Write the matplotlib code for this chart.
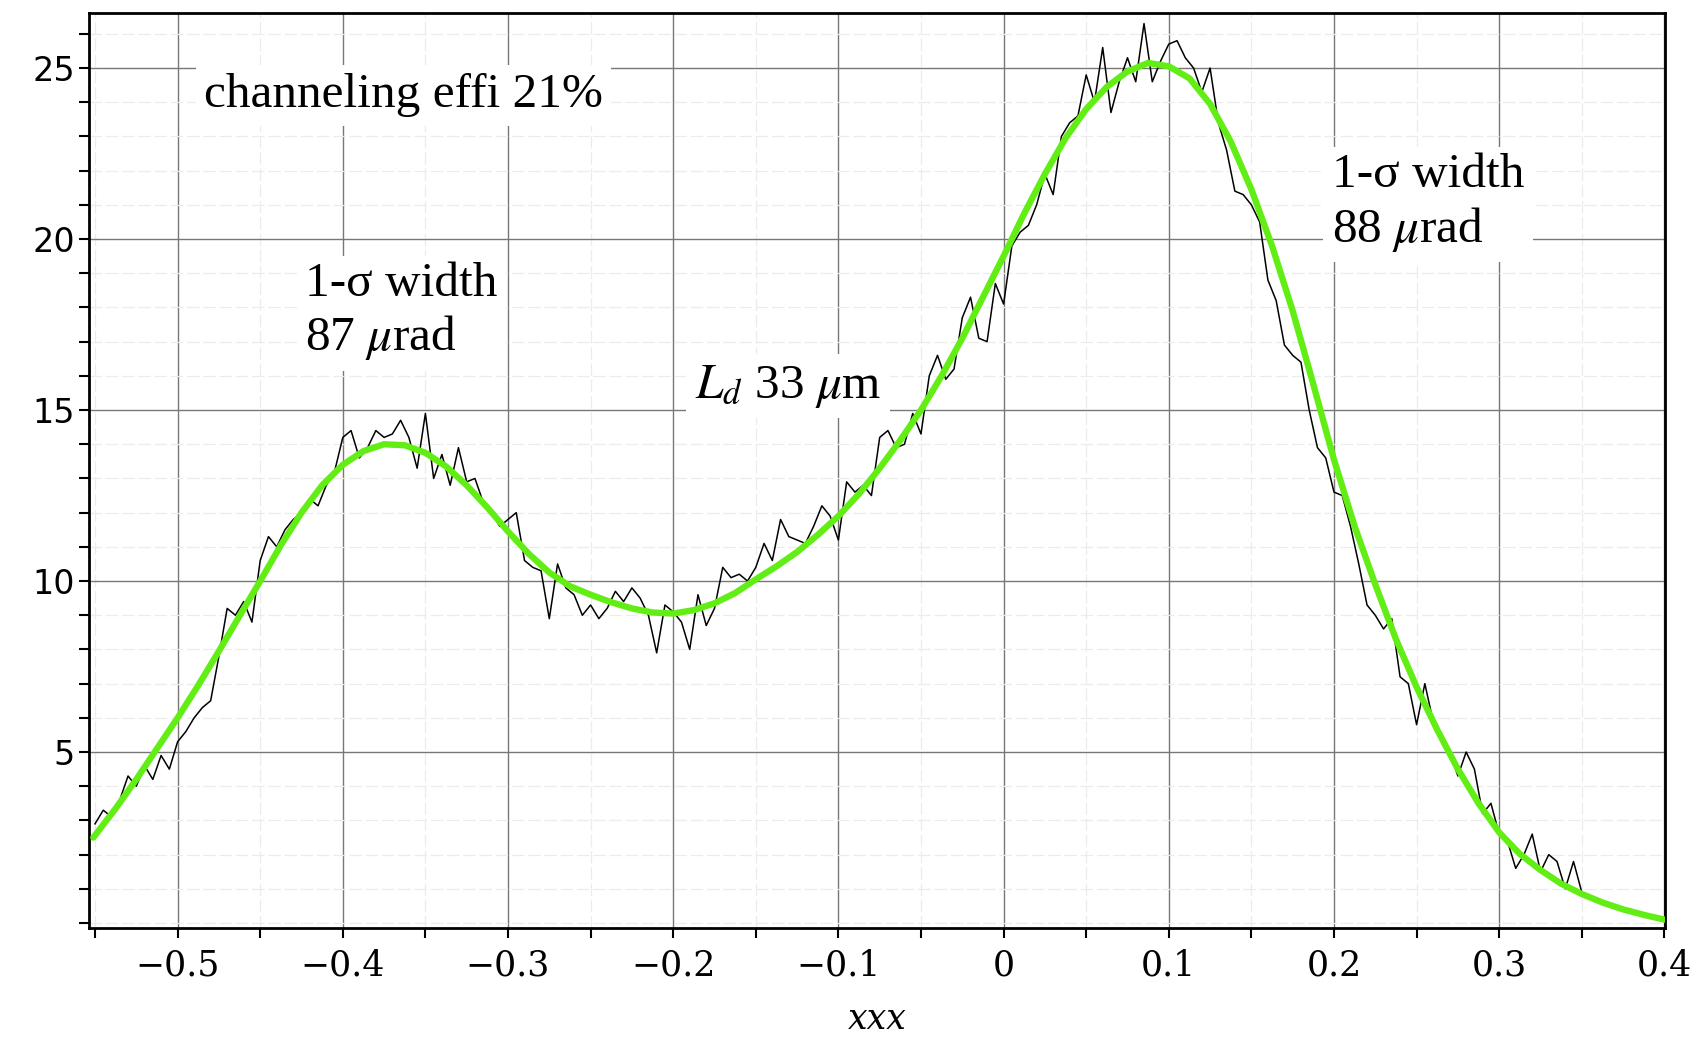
import numpy as np
import matplotlib
matplotlib.use("Agg")
import matplotlib.pyplot as plt
from matplotlib.ticker import MultipleLocator, FixedLocator, FixedFormatter

plt.rcParams['mathtext.fontset'] = 'stix'

# measured spectrum, bins of 0.005 from -0.55 to 0.35
data_y = [2.9, 3.3, 3.1, 3.6, 4.3, 4.0, 4.6, 4.2, 4.9, 4.5,
          5.3, 5.6, 6.0, 6.3, 6.5, 7.8, 9.2, 9.0, 9.4, 8.8,
          10.6, 11.3, 11.0, 11.5, 11.8, 12.0, 12.4, 12.2, 12.8, 13.2,
          14.2, 14.4, 13.6, 13.9, 14.4, 14.2, 14.3, 14.7, 14.2, 13.3,
          14.9, 13.0, 13.7, 12.8, 13.9, 12.9, 13.0, 12.3, 12.0, 11.6,
          11.8, 12.0, 10.6, 10.4, 10.3, 8.9, 10.5, 9.8, 9.6, 9.0,
          9.3, 8.9, 9.2, 9.7, 9.4, 9.8, 9.5, 9.0, 7.9, 9.3,
          9.1, 8.8, 8.0, 9.6, 8.7, 9.2, 10.4, 10.1, 10.2, 10.0,
          10.4, 11.1, 10.6, 11.8, 11.3, 11.2, 11.1, 11.6, 12.2, 11.9,
          11.2, 12.9, 12.6, 12.8, 12.5, 14.2, 14.4, 13.9, 14.0, 14.9,
          14.3, 16.0, 16.6, 15.9, 16.2, 17.7, 18.3, 17.1, 17.0, 18.7,
          18.1, 19.8, 20.2, 20.4, 21.0, 21.9, 21.3, 23.0, 23.4, 23.6,
          24.8, 24.0, 25.6, 23.7, 24.6, 25.3, 24.6, 26.3, 24.6, 25.2,
          25.7, 25.8, 25.3, 25.0, 24.3, 25.0, 23.4, 22.6, 21.4, 21.3,
          21.0, 20.5, 18.8, 18.2, 16.9, 16.6, 16.4, 15.0, 13.9, 13.6,
          12.6, 12.5, 11.6, 10.5, 9.3, 9.0, 8.6, 8.9, 7.2, 7.0,
          5.8, 7.0, 5.9, 5.5, 5.0, 4.3, 5.0, 4.5, 3.2, 3.5,
          2.6, 2.4, 1.6, 2.0, 2.6, 1.5, 2.0, 1.8, 1.0, 1.8,
          0.9]
data_x = np.linspace(-0.55, 0.35, len(data_y))

# fitted curve
fit_x = [-0.551, -0.5375, -0.525, -0.5125, -0.5, -0.4875, -0.475, -0.4625, -0.45, -0.4375,
         -0.425, -0.4125, -0.4, -0.3875, -0.375, -0.3625, -0.35, -0.3375, -0.325, -0.3125,
         -0.3, -0.2875, -0.275, -0.2625, -0.25, -0.2375, -0.225, -0.2125, -0.2, -0.1875,
         -0.175, -0.1625, -0.15, -0.1375, -0.125, -0.1125, -0.1, -0.0875, -0.075, -0.0625,
         -0.05, -0.0375, -0.025, -0.0125, 0.0, 0.0125, 0.025, 0.0375, 0.05, 0.0625,
         0.075, 0.0875, 0.1, 0.1125, 0.125, 0.1375, 0.15, 0.1625, 0.175, 0.1875,
         0.2, 0.2125, 0.225, 0.2375, 0.25, 0.2625, 0.275, 0.2875, 0.3, 0.3125,
         0.325, 0.3375, 0.35, 0.3625, 0.375, 0.3875, 0.4]
fit_y = [2.5, 3.35, 4.2, 5.1, 6.0, 6.95, 7.95, 8.98, 10.0, 11.05,
         12.0, 12.8, 13.4, 13.8, 14.0, 13.97, 13.75, 13.35, 12.8, 12.15,
         11.45, 10.8, 10.25, 9.85, 9.6, 9.38, 9.2, 9.08, 9.05, 9.15,
         9.35, 9.65, 10.05, 10.43, 10.85, 11.35, 11.9, 12.55, 13.3, 14.12,
         15.0, 16.0, 17.1, 18.3, 19.5, 20.75, 21.9, 22.95, 23.8, 24.45,
         24.9, 25.15, 25.05, 24.7, 23.95, 22.85, 21.45, 19.8, 17.9, 15.75,
         13.55, 11.6, 9.9, 8.3, 6.9, 5.65, 4.5, 3.5, 2.65, 2.02,
         1.55, 1.15, 0.85, 0.6, 0.4, 0.24, 0.1]

xticks = [-0.5, -0.4, -0.3, -0.2, -0.1, 0.0, 0.1, 0.2, 0.3, 0.4]
xticklabels = ['\u22120.5', '\u22120.4', '\u22120.3', '\u22120.2', '\u22120.1',
               '0', '0.1', '0.2', '0.3', '0.4']
yticks = [5, 10, 15, 20, 25]

# annotations: (x, y, text)
notes = [(-0.484, 24.2, 'channeling effi 21%'),
         (-0.4226, 17.86, '1-\u03c3 width\n87 $\\mu$rad'),
         (-0.187, 15.7, '$L_d$ 33 $\\mu$m'),
         (0.1987, 21.04, '1-\u03c3 width\n88 $\\mu$rad')]

fig = plt.figure(figsize=(17.06, 10.39), dpi=100)
ax = fig.add_axes([0.0523, 0.1068, 0.9235, 0.8807])

ax.plot(data_x, data_y, color='black', lw=1.1, zorder=3)
ax.plot(fit_x, fit_y, color='#62ee14', lw=4.6, zorder=4, solid_capstyle='round')

ax.set_xlim(-0.5535, 0.4002)
ax.set_ylim(-0.146, 26.61)

ax.xaxis.set_major_locator(FixedLocator(xticks))
ax.xaxis.set_major_formatter(FixedFormatter(xticklabels))
ax.xaxis.set_minor_locator(MultipleLocator(0.05))
ax.yaxis.set_major_locator(FixedLocator(yticks))
ax.yaxis.set_minor_locator(MultipleLocator(1))

ax.grid(which='major', color='#777777', lw=1.0)
ax.grid(which='minor', color='#ececec', lw=0.9, ls=(0, (10, 3)))
ax.set_axisbelow(True)

ax.tick_params(which='both', direction='out', width=1.5, length=7, color='black')
ax.tick_params(axis='x', which='major', pad=8)
for lab in ax.get_xticklabels():
    lab.set_fontfamily('DejaVu Serif')
    lab.set_fontsize(25)
for lab in ax.get_yticklabels():
    lab.set_fontfamily('DejaVu Sans')
    lab.set_fontsize(24)

for s in ax.spines.values():
    s.set_linewidth(2)
    s.set_color('black')

ax.set_xlabel('xxx', fontsize=25, fontstyle='italic', family='DejaVu Serif', labelpad=14)

for x, y, t in notes:
    ax.text(x, y, t, fontsize=35.5, family='Liberation Serif', va='center', ha='left',
            linespacing=1.2, zorder=5,
            bbox=dict(facecolor='white', edgecolor='none', pad=6))

fig.savefig('out.png', dpi=100)
